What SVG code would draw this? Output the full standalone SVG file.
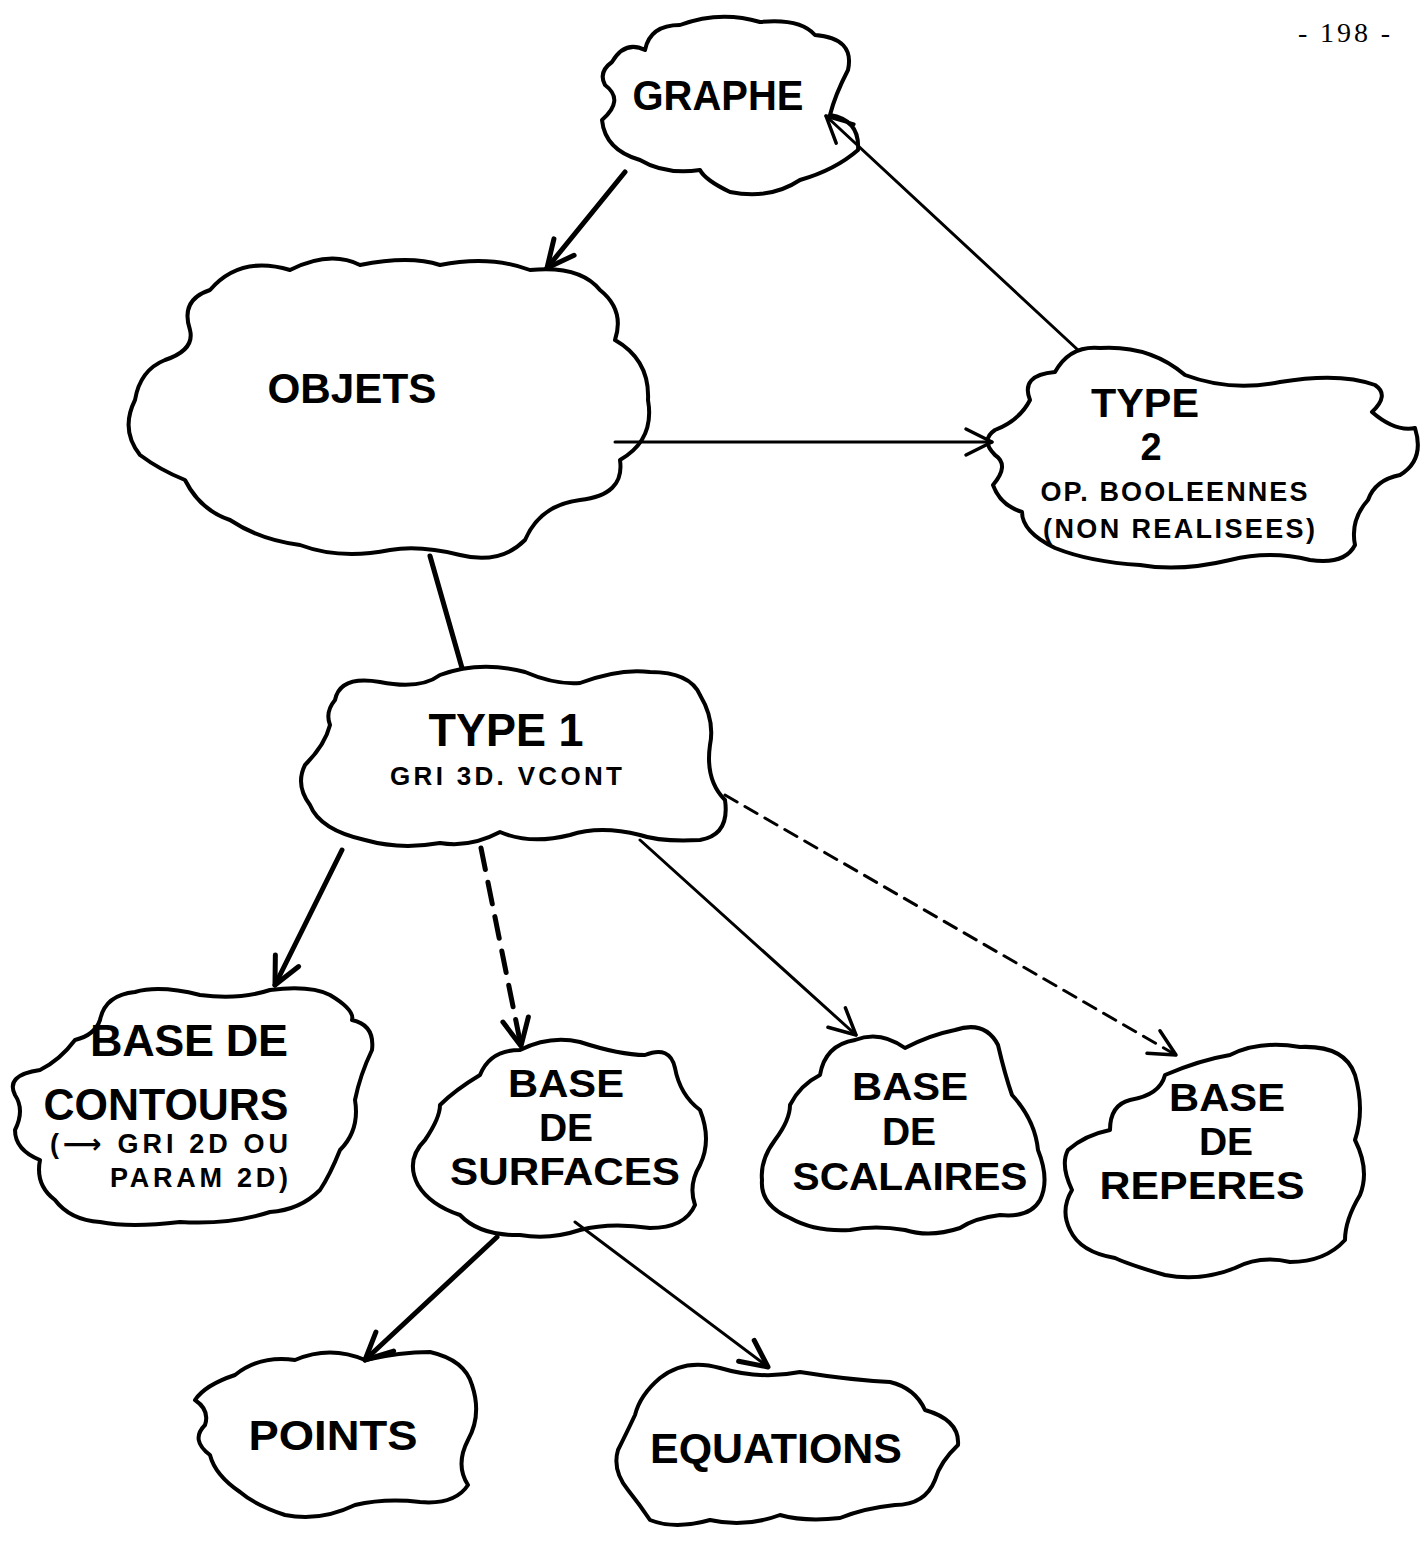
<svg xmlns="http://www.w3.org/2000/svg" width="1428" height="1544" viewBox="0 0 1428 1544">
<style>
.cloud{fill:#fff;stroke:#000;stroke-width:4;stroke-linejoin:round;stroke-linecap:round}
.lbl{font-family:"Liberation Sans","DejaVu Sans",Arial,sans-serif;font-weight:bold;fill:#000;text-anchor:middle}
.big{font-size:42px}
.stk{font-size:39px}
.small{font-size:30px}
.edge{fill:none;stroke:#000;stroke-linecap:round}
.thick{stroke-width:5}
.thin{stroke-width:3}
.page{font-family:"Liberation Serif","Times New Roman",serif;font-size:28px;fill:#000}
</style>
<defs>
<marker id="ahThick" viewBox="-32 -16 36 32" refX="0" refY="0" markerWidth="36" markerHeight="32" markerUnits="userSpaceOnUse" orient="auto" overflow="visible">
<path d="M -27,-13 L 0,0 L -27,13" fill="none" stroke="#000" stroke-width="5" stroke-linecap="round" stroke-linejoin="round"/>
</marker>
<marker id="ahThin" viewBox="-32 -16 36 32" refX="0" refY="0" markerWidth="36" markerHeight="32" markerUnits="userSpaceOnUse" orient="auto" overflow="visible">
<path d="M -26,-13 L 0,0 L -26,13" fill="none" stroke="#000" stroke-width="3.5" stroke-linecap="round" stroke-linejoin="round"/>
</marker>
</defs>
<rect x="0" y="0" width="1428" height="1544" fill="#fff"/>
<text class="page" x="1298" y="42" textLength="92" lengthAdjust="spacing">- 198 -</text>

<g id="graphe">
<path class="cloud" d="M 612,62 Q 625,40 645,50 Q 650,25 680,25 Q 720,10 760,22 Q 800,18 815,35 Q 855,38 848,70 Q 835,95 830,115 Q 860,120 858,150 Q 835,170 800,180 Q 770,200 730,192 Q 705,180 700,170 Q 665,175 640,160 Q 605,150 602,120 Q 625,100 605,85 Q 598,72 612,62 Z"/>
<text class="lbl big" x="718" y="110" textLength="171" lengthAdjust="spacingAndGlyphs">GRAPHE</text>
</g>

<g id="objets">
<path class="cloud" d="M 190,330 Q 180,300 210,290 Q 240,255 290,270 Q 330,250 360,265 Q 410,255 440,265 Q 490,255 530,270 Q 580,265 600,290 Q 625,310 615,340 Q 650,360 648,400 Q 655,440 620,460 Q 625,495 580,500 Q 540,505 525,540 Q 500,565 460,555 Q 420,545 390,550 Q 340,560 300,545 Q 260,540 230,520 Q 200,510 185,480 Q 160,470 140,455 Q 120,430 135,400 Q 140,370 165,360 Q 195,350 190,330 Z"/>
<text class="lbl big" x="352" y="403" textLength="169" lengthAdjust="spacingAndGlyphs">OBJETS</text>
</g>

<g id="type2">
<path class="cloud" d="M 1030,400 Q 1020,375 1055,372 Q 1070,345 1100,348 Q 1150,345 1185,375 Q 1230,392 1280,382 Q 1340,372 1375,385 Q 1390,395 1372,412 Q 1395,432 1415,428 Q 1425,460 1400,475 Q 1375,480 1368,500 Q 1350,520 1355,545 Q 1345,565 1310,560 Q 1270,550 1230,560 Q 1180,572 1140,565 Q 1090,562 1055,548 Q 1022,532 1022,512 Q 1000,505 993,485 Q 1010,465 995,455 Q 980,440 995,430 Q 1020,420 1030,400 Z"/>
<text class="lbl" font-size="40" x="1145" y="417" textLength="108" lengthAdjust="spacingAndGlyphs">TYPE</text>
<text class="lbl" font-size="38" x="1151" y="460">2</text>
<text class="lbl" font-size="27" x="1174" y="501" textLength="267" lengthAdjust="spacing">OP. BOOLEENNES</text>
<text class="lbl" font-size="27" x="1179" y="538" textLength="272" lengthAdjust="spacing">(NON REALISEES)</text>
</g>

<g id="type1">
<path class="cloud" d="M 335,700 Q 340,675 380,682 Q 420,690 440,675 Q 480,660 525,672 Q 555,685 580,683 Q 620,668 650,672 Q 690,672 700,695 Q 715,720 710,745 Q 705,780 725,800 Q 730,835 700,840 Q 660,842 640,835 Q 600,825 570,835 Q 530,845 500,832 Q 470,848 440,843 Q 400,850 365,840 Q 320,830 310,805 Q 295,785 305,765 Q 325,745 330,725 Q 325,712 335,700 Z"/>
<text class="lbl" font-size="46" x="506" y="746" textLength="155" lengthAdjust="spacingAndGlyphs">TYPE 1</text>
<text class="lbl" font-size="26" x="506" y="785" textLength="232" lengthAdjust="spacing">GRI 3D. VCONT</text>
</g>

<g id="base-contours">
<path class="cloud" d="M 100,1020 Q 105,995 135,992 Q 160,985 200,995 Q 240,1000 270,990 Q 310,985 330,995 Q 355,1010 352,1020 Q 375,1025 372,1050 Q 360,1075 355,1100 Q 360,1130 340,1150 Q 330,1175 320,1190 Q 300,1210 270,1212 Q 230,1225 180,1222 Q 130,1228 100,1222 Q 70,1220 55,1200 Q 35,1185 40,1160 Q 15,1150 15,1130 Q 25,1110 15,1095 Q 5,1075 40,1070 Q 60,1060 75,1040 Q 95,1035 100,1020 Z"/>
<text class="lbl" font-size="45" x="189" y="1056" textLength="198" lengthAdjust="spacing">BASE DE</text>
<text class="lbl" font-size="45" x="166" y="1120" textLength="245" lengthAdjust="spacingAndGlyphs">CONTOURS</text>
<text class="lbl" font-size="27" x="169" y="1153" textLength="238" lengthAdjust="spacing">(⟶ GRI 2D OU</text>
<text class="lbl" font-size="27" x="199" y="1187" textLength="178" lengthAdjust="spacing">PARAM 2D)</text>
</g>

<g id="base-surfaces">
<path class="cloud" d="M 480,1075 Q 490,1050 520,1050 Q 550,1035 580,1042 Q 620,1055 645,1055 Q 670,1045 675,1068 Q 680,1095 700,1110 Q 712,1140 700,1165 Q 688,1185 695,1205 Q 685,1228 650,1228 Q 610,1222 580,1230 Q 550,1240 520,1235 Q 480,1236 460,1215 Q 430,1205 418,1185 Q 405,1160 425,1140 Q 440,1118 440,1105 Q 455,1090 480,1075 Z"/>
<text class="lbl stk" x="566" y="1097" textLength="116" lengthAdjust="spacingAndGlyphs">BASE</text>
<text class="lbl stk" x="566" y="1141">DE</text>
<text class="lbl stk" x="565" y="1185" textLength="230" lengthAdjust="spacingAndGlyphs">SURFACES</text>
</g>

<g id="base-scalaires">
<path class="cloud" d="M 820,1075 Q 825,1045 855,1040 Q 880,1030 905,1048 Q 930,1035 955,1030 Q 985,1020 998,1045 Q 1005,1075 1012,1095 Q 1035,1120 1038,1150 Q 1050,1180 1040,1200 Q 1030,1218 1000,1215 Q 975,1218 960,1228 Q 930,1238 905,1230 Q 875,1225 850,1230 Q 815,1232 790,1218 Q 760,1205 762,1180 Q 760,1160 775,1140 Q 790,1120 790,1105 Q 800,1085 820,1075 Z"/>
<text class="lbl stk" x="910" y="1100" textLength="116" lengthAdjust="spacingAndGlyphs">BASE</text>
<text class="lbl stk" x="909" y="1145">DE</text>
<text class="lbl stk" x="910" y="1190" textLength="235" lengthAdjust="spacingAndGlyphs">SCALAIRES</text>
</g>

<g id="base-reperes">
<path class="cloud" d="M 1165,1075 Q 1200,1060 1230,1055 Q 1260,1040 1300,1047 Q 1345,1045 1355,1075 Q 1365,1110 1355,1140 Q 1370,1170 1360,1195 Q 1345,1220 1345,1240 Q 1325,1262 1290,1262 Q 1260,1255 1235,1268 Q 1200,1282 1165,1275 Q 1130,1265 1115,1258 Q 1080,1252 1070,1230 Q 1060,1210 1072,1190 Q 1060,1165 1068,1150 Q 1085,1135 1110,1130 Q 1110,1105 1130,1100 Q 1160,1095 1165,1075 Z"/>
<text class="lbl stk" x="1227" y="1111" textLength="116" lengthAdjust="spacingAndGlyphs">BASE</text>
<text class="lbl stk" x="1226" y="1155">DE</text>
<text class="lbl stk" x="1202" y="1199" textLength="205" lengthAdjust="spacingAndGlyphs">REPERES</text>
</g>

<g id="points">
<path class="cloud" d="M 235,1375 Q 260,1355 295,1360 Q 330,1345 365,1360 Q 400,1352 430,1352 Q 465,1360 472,1385 Q 482,1415 468,1440 Q 455,1465 468,1485 Q 455,1505 420,1502 Q 385,1498 355,1505 Q 320,1522 285,1515 Q 255,1505 240,1492 Q 215,1475 210,1455 Q 190,1440 205,1425 Q 210,1410 195,1400 Q 205,1385 235,1375 Z"/>
<text class="lbl big" x="333" y="1450" textLength="169" lengthAdjust="spacingAndGlyphs">POINTS</text>
</g>

<g id="equations">
<path class="cloud" d="M 660,1378 Q 685,1358 720,1368 Q 760,1380 800,1372 Q 850,1380 890,1382 Q 915,1388 925,1410 Q 960,1420 958,1445 Q 940,1462 935,1480 Q 925,1505 895,1505 Q 865,1508 840,1518 Q 805,1522 780,1515 Q 745,1528 710,1520 Q 675,1530 650,1520 Q 640,1505 628,1490 Q 612,1470 618,1450 Q 628,1430 635,1415 Q 640,1395 660,1378 Z"/>
<text class="lbl big" x="776" y="1463" textLength="252" lengthAdjust="spacingAndGlyphs">EQUATIONS</text>
</g>

<g id="connectors">
<line class="edge thick" x1="625" y1="172" x2="547" y2="268" marker-end="url(#ahThick)"/>
<line class="edge thin" x1="1078" y1="350" x2="826" y2="116" marker-end="url(#ahThin)"/>
<line class="edge thin" x1="615" y1="442" x2="992" y2="442" marker-end="url(#ahThin)"/>
<line class="edge thick" x1="430" y1="556" x2="462" y2="668"/>
<line class="edge thick" x1="342" y1="850" x2="275" y2="985" marker-end="url(#ahThick)"/>
<line class="edge thick" x1="481" y1="848" x2="521" y2="1046" stroke-dasharray="22 13" marker-end="url(#ahThick)"/>
<line class="edge thin" x1="640" y1="840" x2="856" y2="1035" marker-end="url(#ahThin)"/>
<line class="edge thin" x1="725" y1="795" x2="1176" y2="1055" stroke-dasharray="14 9" marker-end="url(#ahThin)"/>
<line class="edge thick" x1="497" y1="1237" x2="365" y2="1360" marker-end="url(#ahThick)"/>
<line class="edge thin" x1="575" y1="1222" x2="768" y2="1367" stroke-width="4" marker-end="url(#ahThick)"/>
</g>
</svg>
